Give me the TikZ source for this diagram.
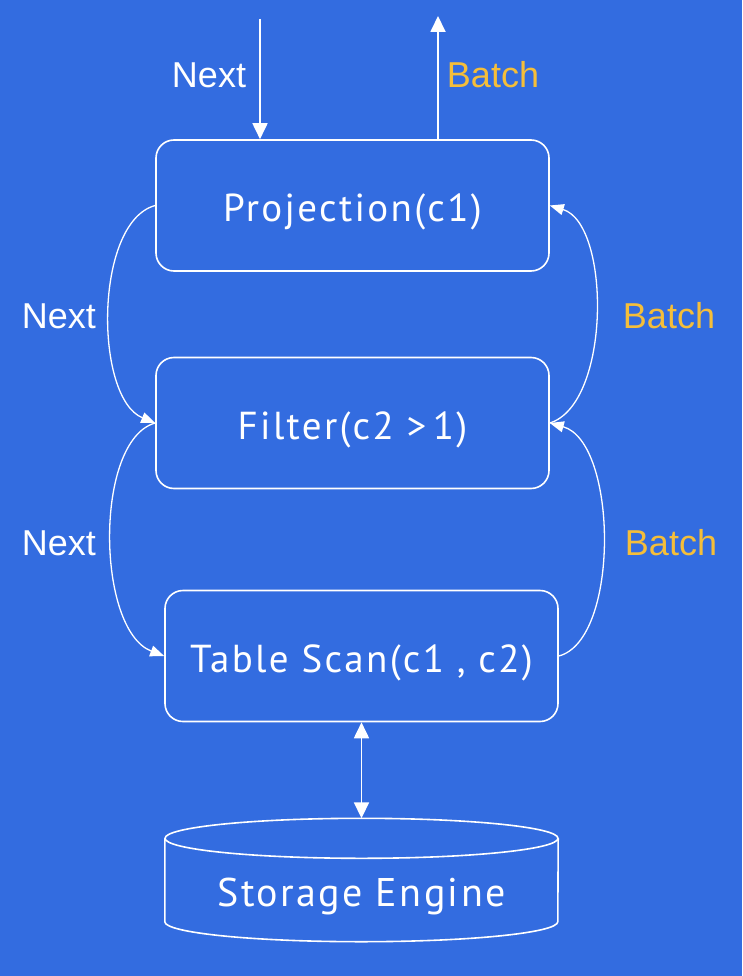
\documentclass[tikz,border=0pt]{standalone}
\usepackage{fontspec}
\setmainfont{Liberation Sans}
\newfontfamily\boxfont[LetterSpace=6]{PT Sans}
\usetikzlibrary{arrows.meta}
\definecolor{bg}{RGB}{51,108,224}
\definecolor{gold}{RGB}{245,190,58}
\begin{document}
\begin{tikzpicture}[x=1pt,y=-1pt,
  opbox/.style={draw=white,line width=1.6pt,rounded corners=18pt,minimum width=393pt,minimum height=131pt,inner sep=0pt,text height=33pt,text depth=0pt,text=white,font=\boxfont\fontsize{39}{42}\selectfont},
  lbl/.style={text=white,font=\fontsize{36}{40}\selectfont,inner sep=0pt},
  blbl/.style={text=gold,font=\fontsize{36}{40}\selectfont,inner sep=0pt},
  bigarrow/.style={draw=white,line width=1.8pt,-{Triangle[width=15pt,length=16pt]}},
  curvearrow/.style={draw=white,line width=1.3pt,-{Triangle[width=11pt,length=14pt]}}]
\fill[bg] (0,0) rectangle (742,976);
\useasboundingbox (0,0) rectangle (742,976);

\node[opbox] (proj) at (352.5,205.5) {Projection(c1)};
\node[opbox] (filt) at (352.5,423) {Filter(c2 >\,1)};
\node[opbox] (scan) at (361.5,656) {Table Scan(c1 , c2)};

% storage engine cylinder
\node[minimum width=393pt,minimum height=123pt,inner sep=0pt] (store) at (361.5,880) {};
\node[text=white,font=\boxfont\fontsize{40}{44}\selectfont,inner sep=0pt] (storetext) at (361.5,896) {Storage Engine};
\draw[white,line width=1.6pt] ([yshift=-20pt]store.north) ellipse [x radius=196.5pt,y radius=20pt];
\draw[white,line width=1.6pt] ([yshift=-20pt]store.north west) -- ([yshift=20pt]store.south west)
  arc[start angle=180,end angle=360,x radius=196.5pt,y radius=20pt] -- ([yshift=-20pt]store.north east);

% top arrows
\coordinate (nexttop) at (260,19);
\coordinate (batchtop) at (438,16);
\draw[bigarrow] (nexttop) -- (nexttop |- proj.north);
\draw[bigarrow] (batchtop |- proj.north) -- (batchtop);
\node[lbl] (nl0) at (209,75) {Next};
\node[blbl] (bl0) at (493,75) {Batch};

% next curves
\draw[curvearrow] (proj.west) .. controls (94,222) and (94,398) .. (filt.west);
\draw[curvearrow] (filt.west) .. controls (94,440) and (96,630) .. (scan.west);
\node[lbl] (nl1) at (59,316) {Next};
\node[lbl] (nl2) at (59,543) {Next};

% batch curves
\draw[curvearrow] (filt.east) .. controls (611,404) and (611,224) .. (proj.east);
\draw[curvearrow] (scan.east) .. controls (620,640) and (618,442) .. (filt.east);
\node[blbl] (bl1) at (669,316) {Batch};
\node[blbl] (bl2) at (671,543) {Batch};

% scan <-> storage
\draw[draw=white,line width=1.8pt,{Triangle[width=15pt,length=16pt]}-{Triangle[width=15pt,length=16pt]}] (scan.south) -- (store.north);
\end{tikzpicture}
\end{document}
